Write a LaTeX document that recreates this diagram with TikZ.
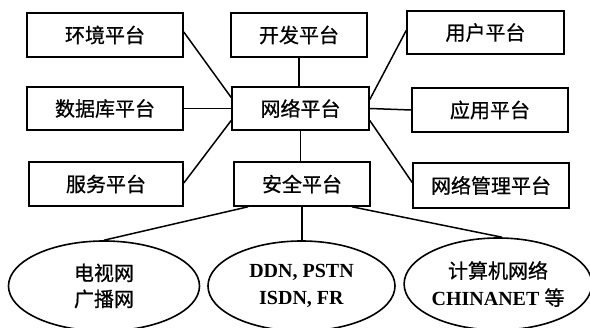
\documentclass[tikz,border=0pt]{standalone}
\usepackage{fontspec}
\setmainfont{Liberation Serif}
\newfontfamily\cjk[FakeBold=0.8]{Noto Sans CJK SC}
\usetikzlibrary{shapes.geometric}
\begin{document}
\begin{tikzpicture}[x=1pt,y=-1pt,
  line width=1.6pt,
  plat/.style={draw, rectangle, inner sep=0pt, font=\cjk\fontsize{20}{22}\selectfont},
  net/.style={draw, ellipse, inner sep=0pt, align=center, font=\fontsize{20}{27}\selectfont},
  link/.style={line width=1.5pt}]
\useasboundingbox (0,0) rectangle (590,328);
\clip (0,0) rectangle (590,328);
\node[plat, minimum width=156pt, minimum height=44pt] (env) at (105,35) {环境平台};
\node[plat, minimum width=136pt, minimum height=44pt] (dev) at (299,35) {开发平台};
\node[plat, minimum width=157pt, minimum height=43pt] (user) at (485.5,32.5) {用户平台};
\node[plat, minimum width=156pt, minimum height=43pt] (db) at (105,108.5) {数据库平台};
\node[plat, minimum width=137pt, minimum height=43pt] (netp) at (300.5,108.5) {网络平台};
\node[plat, minimum width=156pt, minimum height=44pt] (app) at (490,110) {应用平台};
\node[plat, minimum width=154pt, minimum height=44pt] (svc) at (106,184) {服务平台};
\node[plat, minimum width=136pt, minimum height=44pt] (sec) at (302,184) {安全平台};
\node[plat, minimum width=156pt, minimum height=45pt] (mgmt) at (491,185.5) {网络管理平台};
\node[net, minimum width=191pt, minimum height=90pt] (e1) at (104,286) {{\cjk 电视网}\\[-1pt]{\cjk 广播网}};
\node[net, minimum width=187pt, minimum height=90pt] (e2) at (301.5,286) {\textbf{DDN, PSTN}\\\textbf{ISDN, FR}};
\node[net, minimum width=180pt, minimum height=92pt] (e3) at (498,284) {{\cjk 计算机网络}\\\textbf{CHINANET} {\cjk 等}};
\draw[link] ([yshift=3pt]env.east) -- ([yshift=11pt]netp.west);
\draw[link] (db.east) -- (netp.west);
\draw[link] ([yshift=1pt]svc.east) -- ([yshift=-12pt]netp.west);
\draw[link] (dev.south) -- (dev.south |- netp.north);
\draw[link] ([yshift=2pt]user.west) -- ([yshift=9pt]netp.east);
\draw[link] (app.west) -- (netp.east);
\draw[link] ([yshift=3pt]mgmt.west) -- ([yshift=-12pt]netp.east);
\draw[link] (netp.south) -- (netp.south |- sec.north);
\draw[link] ([xshift=-54pt]sec.south) -- (e1.north);
\draw[link] (sec.south) -- (sec.south |- e2.north);
\draw[link] ([xshift=50pt]sec.south) -- (e3.85);
\end{tikzpicture}
\end{document}
